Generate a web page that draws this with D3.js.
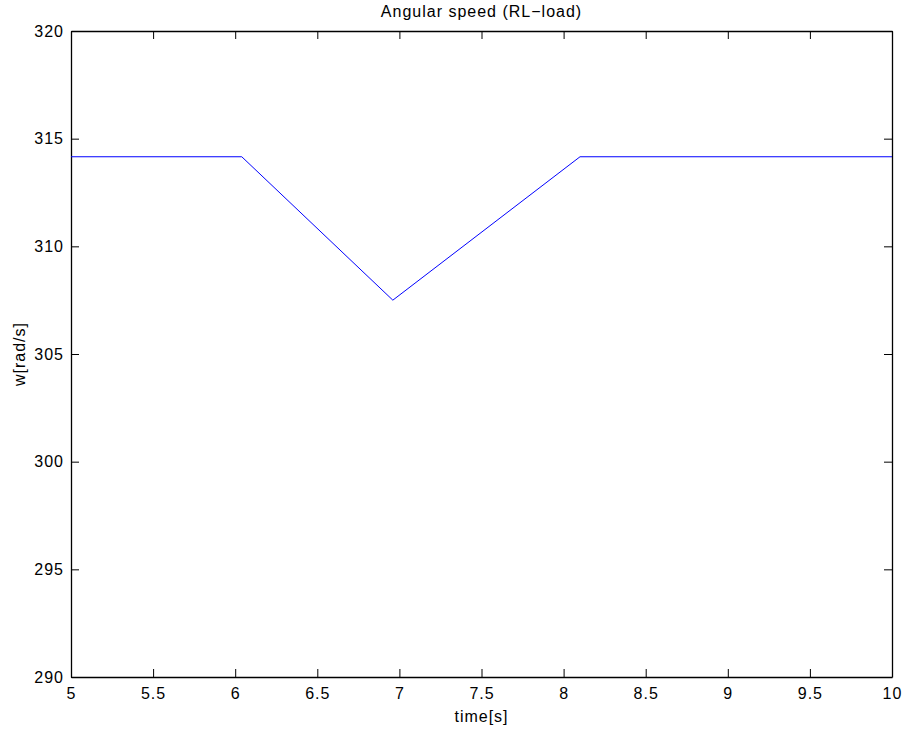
<!DOCTYPE html>
<html>
<head>
<meta charset="utf-8">
<script src="https://cdn.jsdelivr.net/npm/d3@7"></script>
<style>
  html, body { margin: 0; padding: 0; background: #fff; }
  svg { display: block; }
  text { font-family: "Liberation Sans", Arial, Helvetica, sans-serif; fill: #000; letter-spacing: 1px; }
</style>
</head>
<body>
<svg id="chart" width="905" height="733"></svg>
<script>
// Data
const timeValues = [5, 6.04, 6.96, 8.1, 10];
const speedValues = [314.16, 314.16, 307.5, 314.16, 314.16];
const xTicks = [5, 5.5, 6, 6.5, 7, 7.5, 8, 8.5, 9, 9.5, 10];
const yTicks = [290, 295, 300, 305, 310, 315, 320];
const titleText = "Angular speed (RL\u2212load)";
const xLabelText = "time[s]";
const yLabelText = "w[rad/s]";

const W = 905, H = 733;
const m = { left: 71, right: 905 - 892, top: 31, bottom: 733 - 677 };
const svg = d3.select("#chart");
const fs = 16;

const x = d3.scaleLinear().domain([5, 10]).range([m.left, W - m.right]);
const y = d3.scaleLinear().domain([290, 320]).range([H - m.bottom, m.top]);

const fmt = d => String(d);

// Bottom axis
const gB = svg.append("g").attr("transform", `translate(0,${H - m.bottom})`)
  .call(d3.axisBottom(x).tickValues(xTicks).tickFormat(fmt).tickSizeInner(-8).tickSizeOuter(0).tickPadding(14));
// Top axis
const gT = svg.append("g").attr("transform", `translate(0,${m.top})`)
  .call(d3.axisTop(x).tickValues(xTicks).tickFormat("").tickSizeInner(-8).tickSizeOuter(0));
// Left axis
const gL = svg.append("g").attr("transform", `translate(${m.left},0)`)
  .call(d3.axisLeft(y).tickValues(yTicks).tickFormat(fmt).tickSizeInner(-8).tickSizeOuter(0).tickPadding(14));
// Right axis
const gR = svg.append("g").attr("transform", `translate(${W - m.right},0)`)
  .call(d3.axisRight(y).tickValues(yTicks).tickFormat("").tickSizeInner(-8).tickSizeOuter(0));

[gB, gT, gL, gR].forEach(g => {
  g.selectAll("path.domain").attr("stroke", "#000").attr("stroke-width", 1.3);
  g.selectAll(".tick line").attr("stroke", "#000").attr("stroke-width", 1);
  g.selectAll("text").attr("font-size", fs).attr("font-family", "Liberation Sans, Arial, sans-serif")
    .attr("fill", "#000").style("letter-spacing", "1px");
});
gB.selectAll(".tick text").attr("dy", "0.71em").attr("y", 11);
gL.selectAll(".tick text").attr("x", -7);

// Line
const line = d3.line().x(d => x(d[0])).y(d => y(d[1]));
svg.append("path")
  .datum(timeValues.map((t, i) => [t, speedValues[i]]))
  .attr("fill", "none")
  .attr("stroke", "#0000ff")
  .attr("stroke-width", 1)
  .attr("d", line);

// Title
svg.append("text").attr("x", (m.left + W - m.right) / 2).attr("y", 17)
  .attr("text-anchor", "middle").attr("font-size", fs).text(titleText);
// X label
svg.append("text").attr("x", (m.left + W - m.right) / 2).attr("y", 722)
  .attr("text-anchor", "middle").attr("font-size", fs).text(xLabelText);
// Y label
svg.append("text").attr("transform", `translate(25,${(m.top + H - m.bottom) / 2}) rotate(-90)`)
  .attr("text-anchor", "middle").attr("font-size", fs).text(yLabelText);
</script>
</body>
</html>
